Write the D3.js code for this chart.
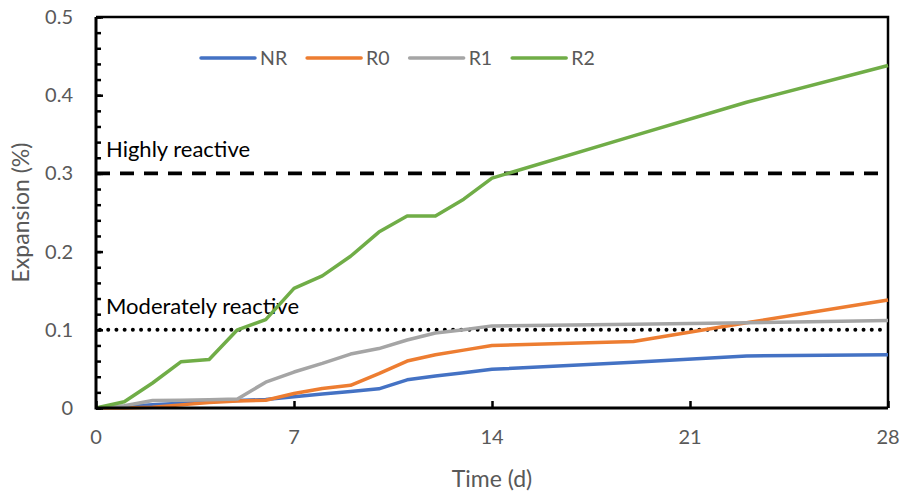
<!DOCTYPE html>
<html>
<head>
<meta charset="utf-8">
<script src="https://cdn.jsdelivr.net/npm/d3@7"></script>
<style>
  body { margin: 0; background: #fff; }
  svg { font-family: Lato, "Open Sans", sans-serif; }
  .tick-label { fill: #595959; font-size: 20px; }
  .axis-title { fill: #595959; font-size: 23px; }
  .legend text { fill: #595959; font-size: 19.5px; }
  .note { fill: #000; font-size: 22px; }
</style>
</head>
<body>
<div class="chart"></div>
<script>
// measurement days (d)
const days = [0, 1, 2, 3, 4, 5, 6, 7, 8, 9, 10, 11, 12, 13, 14, 19, 23, 28]

// expansion (%) per series
const nr = [0, 0.002, 0.004, 0.006, 0.008, 0.0095, 0.011, 0.0145, 0.018, 0.021, 0.0245, 0.036, 0.041, 0.045, 0.0495, 0.0585, 0.0665, 0.068]
const r0 = [0, 0, 0.001, 0.004, 0.007, 0.009, 0.010, 0.0185, 0.025, 0.029, 0.044, 0.060, 0.068, 0.074, 0.080, 0.085, 0.109, 0.138]
const r1 = [0, 0.003, 0.0095, 0.010, 0.0105, 0.0115, 0.033, 0.046, 0.057, 0.069, 0.076, 0.087, 0.096, 0.100, 0.105, 0.107, 0.109, 0.112]
const r2 = [0, 0.008, 0.032, 0.059, 0.062, 0.100, 0.113, 0.153, 0.169, 0.194, 0.225, 0.2455, 0.2455, 0.267, 0.294, 0.348, 0.391, 0.438]

const seriesNames = ['NR', 'R0', 'R1', 'R2']
const seriesColors = ['#4472C4', '#ED7D31', '#A5A5A5', '#70AD47']
const seriesValues = [nr, r0, r1, r2]

const xTicks = [0, 7, 14, 21, 28]
const yTicks = [0, 0.1, 0.2, 0.3, 0.4, 0.5]
const yMinorTicks = d3.range(0, 0.5001, 0.02)

// reactivity thresholds
const thresholds = [
  { label: 'Highly reactive', value: 0.3, dash: '14 10', cap: 'butt' },
  { label: 'Moderately reactive', value: 0.1, dash: '0.01 8.2', cap: 'round' }
]

const W = 902, H = 493
const margin = { top: 17, right: 14, bottom: 85, left: 96 }
const width = W - margin.left - margin.right
const height = H - margin.top - margin.bottom

const x = d3.scaleLinear().domain([0, 28]).range([0, width])
const y = d3.scaleLinear().domain([0, 0.5]).range([height, 0])

const svg = d3.select('.chart').append('svg')
  .attr('width', W)
  .attr('height', H)

const g = svg.append('g')
  .attr('transform', `translate(${margin.left},${margin.top})`)

// plot border (top and right)
g.append('path')
  .attr('d', `M0,0H${width}V${height}`)
  .attr('fill', 'none')
  .attr('stroke', '#000')
  .attr('stroke-width', 2.5)

// threshold lines
thresholds.forEach(t => {
  g.append('line')
    .attr('x1', t.cap === 'round' ? 4 : 0)
    .attr('x2', width - 3)
    .attr('y1', y(t.value))
    .attr('y2', y(t.value))
    .attr('stroke', '#000')
    .attr('stroke-width', t.cap === 'round' ? 4 : 3.6)
    .attr('stroke-dasharray', t.dash)
    .attr('stroke-linecap', t.cap)
  g.append('text')
    .attr('class', 'note')
    .attr('x', 10)
    .attr('y', y(t.value) - 16)
    .text(t.label)
})

// series lines
const line = d3.line()
  .x((d, i) => x(days[i]))
  .y(d => y(d))

seriesValues.forEach((vals, i) => {
  g.append('path')
    .datum(vals)
    .attr('fill', 'none')
    .attr('stroke', seriesColors[i])
    .attr('stroke-width', 3.5)
    .attr('stroke-linejoin', 'round')
    .attr('d', line)
})

// y axis: minor + major ticks pointing inwards
g.append('g')
  .call(d3.axisRight(y).tickValues(yMinorTicks).tickSize(5).tickFormat(''))
  .call(a => a.select('.domain').remove())
  .selectAll('line').attr('stroke', '#000').attr('stroke-width', 2.5)

g.append('g')
  .call(d3.axisRight(y).tickValues(yTicks).tickSize(7).tickFormat(''))
  .call(a => a.select('.domain').remove())
  .selectAll('line').attr('stroke', '#000').attr('stroke-width', 2.5)

g.selectAll('.ylab')
  .data(yTicks)
  .enter().append('text')
  .attr('class', 'tick-label')
  .attr('x', -23)
  .attr('y', d => y(d))
  .attr('dy', '0.35em')
  .attr('text-anchor', 'end')
  .text(d => d)

// x axis ticks pointing up
g.append('g')
  .attr('transform', `translate(0,${height})`)
  .call(d3.axisTop(x).tickValues(xTicks).tickSize(7).tickFormat(''))
  .call(a => a.select('.domain').remove())
  .selectAll('line').attr('stroke', '#000').attr('stroke-width', 2.5)

g.selectAll('.xlab')
  .data(xTicks)
  .enter().append('text')
  .attr('class', 'tick-label')
  .attr('x', d => x(d))
  .attr('y', height + 29)
  .attr('dy', '0.35em')
  .attr('text-anchor', 'middle')
  .text(d => d)

// axis lines
g.append('path')
  .attr('d', `M0,0V${height}H${width}`)
  .attr('fill', 'none')
  .attr('stroke', '#000')
  .attr('stroke-width', 3)

// axis titles
svg.append('text')
  .attr('class', 'axis-title')
  .attr('x', margin.left + width / 2)
  .attr('y', 479)
  .attr('dy', '0.35em')
  .attr('text-anchor', 'middle')
  .text('Time (d)')

svg.append('text')
  .attr('class', 'axis-title')
  .attr('transform', `translate(21,${margin.top + height / 2}) rotate(-90)`)
  .attr('dy', '0.35em')
  .attr('text-anchor', 'middle')
  .text('Expansion (%)')

// legend
const legend = svg.append('g')
  .attr('class', 'legend')
  .attr('transform', 'translate(201,58)')

let lx = 0
seriesNames.forEach((name, i) => {
  const item = legend.append('g').attr('transform', `translate(${lx},0)`)
  item.append('line')
    .attr('x1', 0).attr('x2', 54)
    .attr('stroke', seriesColors[i])
    .attr('stroke-width', 3.5)
    .attr('stroke-linecap', 'round')
  const t = item.append('text')
    .attr('x', 59)
    .attr('dy', '0.35em')
    .text(name)
  lx += 59 + t.node().getComputedTextLength() + 20
})
</script>
</body>
</html>
